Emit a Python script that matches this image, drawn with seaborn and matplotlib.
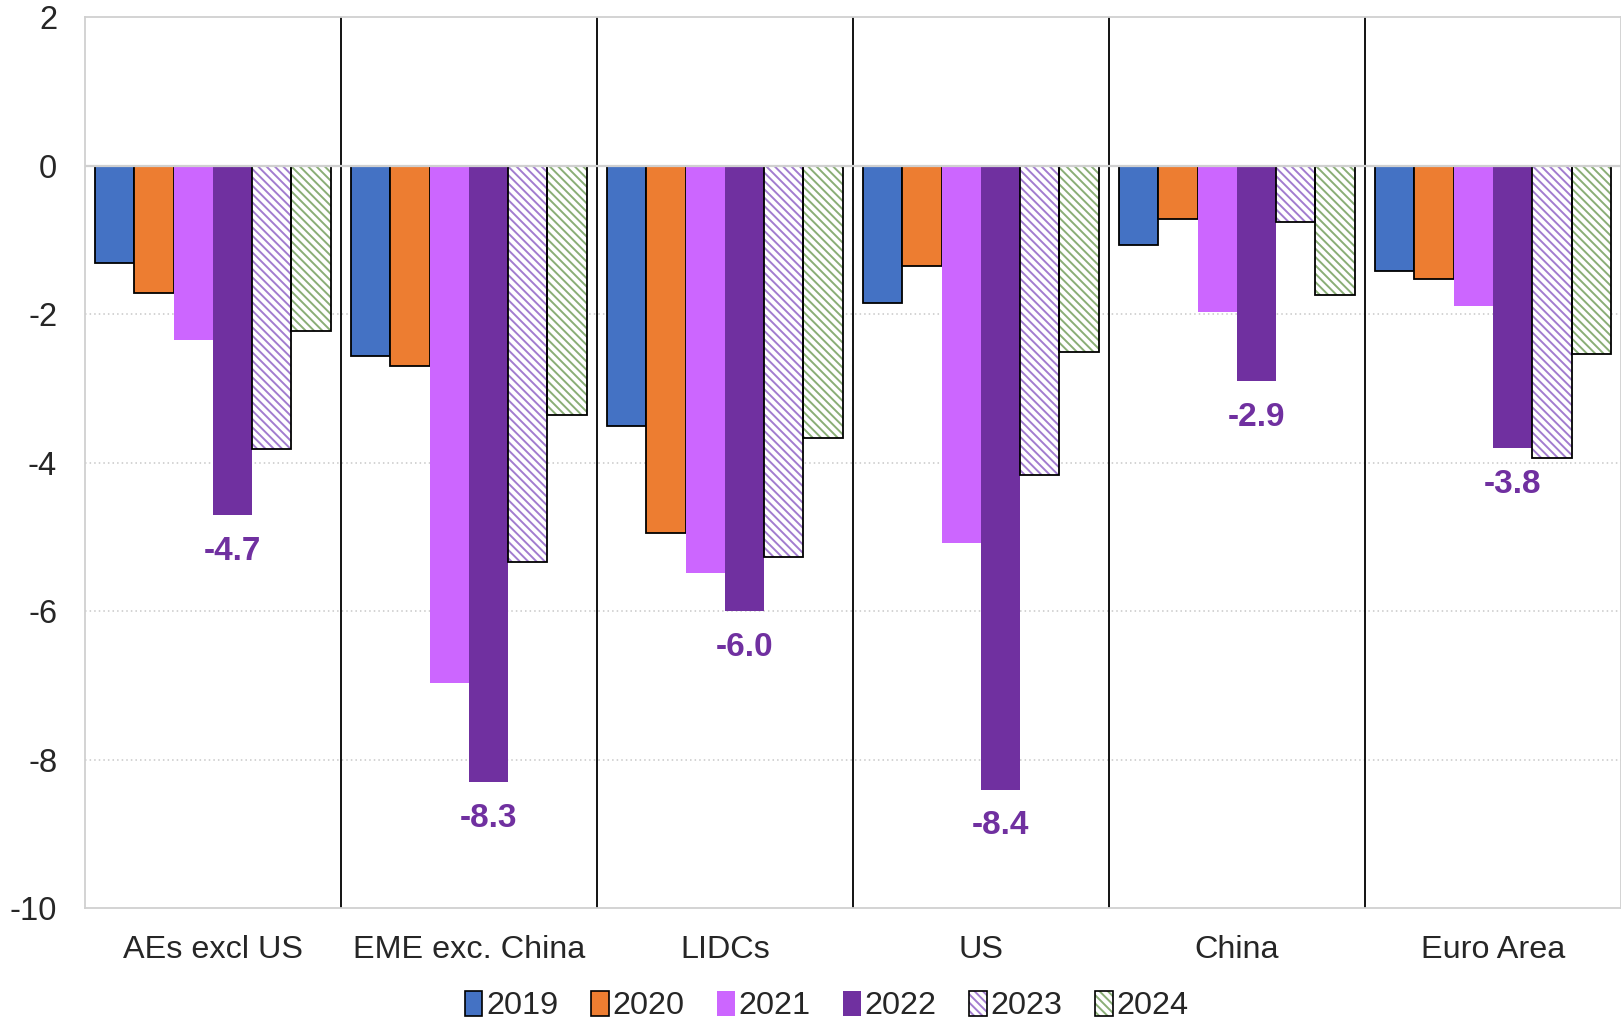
import matplotlib
matplotlib.use("Agg")
import matplotlib.pyplot as plt
import numpy as np
import pandas as pd
import seaborn as sns
from matplotlib.patches import Patch, Rectangle

# Regions and yearly values
regions = ["AEs excl US", "EME exc. China", "LIDCs", "US", "China", "Euro Area"]
years = ["2019", "2020", "2021", "2022", "2023", "2024"]
v2019 = [-1.31, -2.56, -3.50, -1.85, -1.06, -1.42]
v2020 = [-1.71, -2.70, -4.94, -1.35, -0.71, -1.52]
v2021 = [-2.34, -6.97, -5.48, -5.08, -1.97, -1.89]
v2022 = [-4.7, -8.3, -6.0, -8.4, -2.9, -3.8]
v2023 = [-3.81, -5.33, -5.27, -4.16, -0.76, -3.94]
v2024 = [-2.23, -3.35, -3.66, -2.50, -1.74, -2.53]
yticks = [2, 0, -2, -4, -6, -8, -10]

series = [v2019, v2020, v2021, v2022, v2023, v2024]
fill_colors = ["#4472C4", "#ED7D31", "#CC66FF", "#7030A0", "#FFFFFF", "#FFFFFF"]
hatch_colors = [None, None, None, None, "#A27CCF", "#8AAE76"]
edged = [True, True, False, False, True, True]
label_color = "#7030A0"

rows = []
for yr, vals in zip(years, series):
    for reg, v in zip(regions, vals):
        rows.append({"region": reg, "year": yr, "value": v})
df = pd.DataFrame(rows)

sns.set_style("white")
plt.rcParams["font.family"] = ["Liberation Sans", "DejaVu Sans"]
plt.rcParams["axes.unicode_minus"] = False
plt.rcParams["hatch.linewidth"] = 1.4

fig = plt.figure(figsize=(16.21, 10.23), dpi=100)
ax = fig.add_axes([0.0524, 0.112, 0.9476, 0.871])

palette = dict(zip(years, fill_colors))
sns.barplot(data=df, x="region", y="value", hue="year", order=regions,
            hue_order=years, palette=palette, saturation=1, width=0.92,
            errorbar=None, legend=False, ax=ax, zorder=2)

hatch = "\\\\\\\\"
for i, cont in enumerate(ax.containers):
    for bar in cont:
        if hatch_colors[i] is not None:
            bar.set_facecolor("white")
            bar.set_edgecolor(hatch_colors[i])
            bar.set_hatch(hatch)
            bar.set_linewidth(0)
            ax.add_patch(Rectangle(bar.get_xy(), bar.get_width(), bar.get_height(),
                                   facecolor="none", edgecolor="black",
                                   linewidth=1.3, zorder=3))
        elif edged[i]:
            bar.set_edgecolor("black")
            bar.set_linewidth(1.3)
        else:
            bar.set_linewidth(0)

# Value labels under the 2022 bars
ax.bar_label(ax.containers[3], fmt="%.1f", padding=15, fontsize=24,
             fontweight="bold", color=label_color)

ax.set_xlim(-0.5, len(regions) - 0.5)
ax.set_ylim(-10, 2)
ax.set_yticks(yticks)
ax.set_yticklabels([str(t) for t in yticks])
ax.tick_params(axis="y", length=0, pad=20, labelsize=23.5)
ax.tick_params(axis="x", length=0, pad=19, labelsize=23.3)
ax.set_xlabel("")
ax.set_ylabel("")

for t in [-2, -4, -6, -8]:
    ax.axhline(t, color="#C8C8C8", linestyle=(0, (1, 2)), linewidth=1.1, zorder=0)
ax.axhline(0, color="#D0D0D0", linewidth=1.6, zorder=4)

for k in range(1, len(regions)):
    ax.axvline(k - 0.5, color="black", linewidth=1.3, zorder=1)

for s in ax.spines.values():
    s.set_color("#D0D0D0")
    s.set_linewidth(1.3)

handles = []
for i, yr in enumerate(years):
    if hatch_colors[i] is not None:
        handles.append((Patch(facecolor="white", edgecolor=hatch_colors[i], hatch=hatch, linewidth=0),
                        Patch(facecolor="none", edgecolor="black", linewidth=1.2)))
    else:
        handles.append(Patch(facecolor=fill_colors[i], edgecolor="black" if edged[i] else "none",
                             linewidth=1.2))
fig.legend(handles, years, loc="lower center", bbox_to_anchor=(0.51, -0.027), ncol=6,
           frameon=False, fontsize=23.3, handlelength=0.55, handleheight=0.8,
           handletextpad=0.12, columnspacing=1.0)

fig.savefig("out.png", dpi=100, facecolor="white")
